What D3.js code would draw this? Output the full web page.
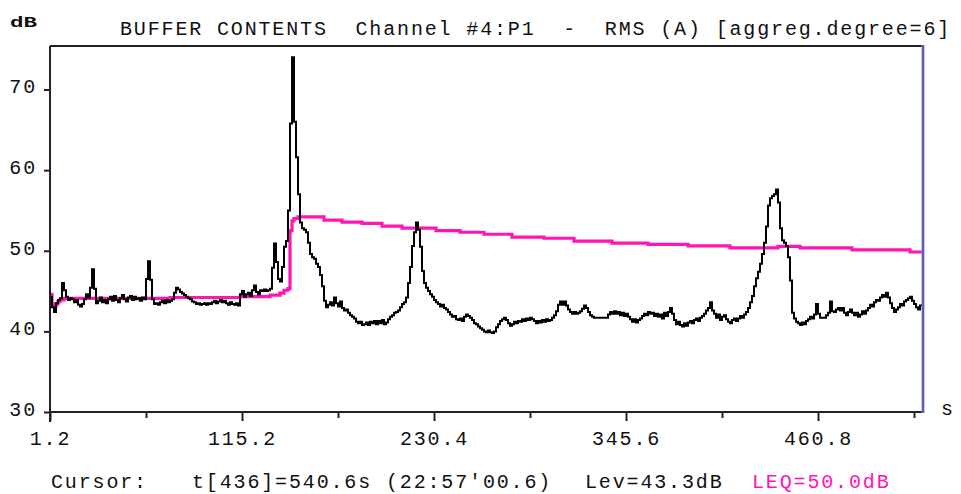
<!DOCTYPE html>
<html><head><meta charset="utf-8">
<script src="https://cdn.jsdelivr.net/npm/d3@7"></script>
<style>
html,body{margin:0;padding:0;background:#fff;}
svg{display:block;}
text{font-family:"Liberation Mono","Courier New",monospace;font-size:20px;letter-spacing:1.85px;fill:#111;white-space:pre;}
</style></head><body>
<svg id="c" width="961" height="494"></svg>
<script>
const titleText = "BUFFER CONTENTS  Channel #4:P1  -  RMS (A) [aggreg.degree=6]";
const yUnit = "dB";
const xUnit = "s";
const xTickIdx = [0, 96, 192, 288, 384];
const xTickLabels = ["1.2", "115.2", "230.4", "345.6", "460.8"];
const xMinorIdx = [48, 144, 240, 336, 432];
const yTicks = [30, 40, 50, 60, 70];
const cursorIdx = 436;
const footCursor = "Cursor:";
const footTime = "t[436]=540.6s (22:57'00.6)";
const footLev = "Lev=43.3dB";
const footLeq = "LEQ=50.0dB";

// RMS level per aggregated sample (dB)
const lev = [
44.3,43.0,42.4,43.5,43.9,44.1,46.0,45.1,44.3,43.9,44.1,
44.0,43.6,43.9,43.3,43.1,43.4,44.0,44.6,44.2,45.4,47.7,45.3,43.5,
43.8,44.2,43.6,43.9,43.5,44.0,44.3,43.8,44.4,43.9,43.6,44.1,44.5,44.0,43.7,44.2,44.4,43.9,44.3,44.0,44.1,43.8,44.2,44.0,
46.5,48.7,46.4,44.0,43.4,43.5,43.3,43.6,43.8,43.5,43.9,43.6,
43.8,44.0,44.8,45.4,45.2,44.9,44.7,44.5,44.3,44.1,
44.0,43.7,43.6,43.4,43.5,43.3,43.4,43.5,43.3,43.5,
43.4,43.6,43.8,43.5,43.7,43.9,43.6,43.8,43.5,43.3,
43.6,43.4,43.3,43.5,43.2,44.6,45.0,44.3,44.6,44.8,
44.4,45.1,45.7,44.9,44.6,45.1,45.0,45.2,45.0,45.1,
45.3,47.9,50.9,48.6,46.5,46.2,48.0,50.5,51.2,55.0,
65.8,74.0,66.0,61.6,57.0,53.5,52.8,52.6,52.3,51.0,
49.6,49.2,49.0,48.4,48.0,47.0,45.6,43.8,43.0,43.3,
43.6,43.2,44.2,43.5,43.1,43.7,42.9,42.6,42.7,42.3,
42.0,41.8,41.6,41.2,41.0,41.2,40.8,40.9,41.1,40.8,
41.2,41.0,41.3,40.9,41.3,41.0,41.4,40.9,41.1,41.5,
41.8,42.0,42.3,42.4,42.6,43.0,43.4,43.6,44.2,46.0,
48.0,50.6,52.3,53.5,52.6,50.5,47.5,46.0,45.4,45.0,
44.6,44.3,43.9,43.6,43.4,43.1,43.3,42.9,42.7,42.4,
42.1,41.8,41.9,41.5,41.4,41.6,41.3,41.8,42.1,41.9,
41.7,41.4,41.0,40.9,40.6,40.4,40.2,40.0,39.9,40.1,
39.9,39.8,40.0,40.5,40.9,41.3,41.5,41.7,41.4,41.0,
40.7,40.9,41.2,41.0,41.3,41.2,41.5,41.3,41.6,41.4,
41.7,41.5,41.3,41.0,41.3,41.1,41.4,41.2,41.5,41.3,
41.4,41.7,42.0,42.5,43.3,43.7,43.3,43.7,43.2,42.7,
42.4,42.2,42.4,42.2,42.3,42.5,42.8,43.2,42.9,42.4,
42.0,41.8,41.7,41.7,41.7,41.7,41.7,41.7,41.7,42.1,
42.4,42.2,42.5,42.2,42.4,42.0,42.3,41.9,42.2,41.8,
41.5,41.2,41.5,41.1,41.4,41.6,41.9,42.2,42.0,42.4,
42.2,42.3,41.9,42.2,41.8,42.1,41.6,42.3,41.9,42.4,
42.9,42.2,41.4,40.9,41.2,40.8,40.6,41.0,40.7,41.1,
41.3,41.0,41.4,41.6,41.3,41.7,41.9,42.2,42.6,42.9,
43.6,42.6,42.2,41.7,42.1,41.4,41.8,42.0,41.5,41.2,
41.0,41.4,41.6,41.3,41.6,41.9,41.7,42.1,42.4,42.9,
43.6,44.4,45.6,46.6,47.4,48.4,49.6,51.0,53.0,55.6,
56.5,56.8,57.0,57.6,56.0,52.8,51.3,51.0,50.6,49.2,
46.3,42.3,41.6,41.2,41.0,40.8,41.1,40.9,41.3,41.5,
41.8,41.6,42.1,43.4,42.2,41.7,41.7,41.7,42.0,42.3,
43.7,42.5,42.4,42.7,42.9,42.6,42.9,42.3,42.0,42.4,
42.7,42.3,42.0,42.3,41.8,42.1,42.5,42.2,42.6,42.9,
43.3,43.1,43.6,43.9,43.8,44.2,44.5,44.3,44.8,44.2,
43.5,42.9,42.4,42.7,43.0,43.4,43.2,43.7,43.9,44.1,
44.3,43.8,43.4,43.0,42.7,43.2,43.3
];

// running LEQ: sample index where the value changes, and the value
const leqIdx = [0,1,2,3,4,5,7,60,95,110,115,117,119,120,121,122,124,137,146,156,166,176,193,205,217,231,247,262,281,299,319,340,364,375,401,430];
const leqVal = [44.6,43.4,43.1,43.4,43.7,43.9,44.1,44.2,44.3,44.5,44.75,45.1,45.3,52.5,53.7,54.0,54.2,53.8,53.55,53.4,53.05,52.8,52.5,52.3,52.05,51.7,51.55,51.2,50.95,50.8,50.6,50.35,50.55,50.35,50.1,49.85];

const svg = d3.select("#c");
const x = d3.scaleLinear().domain([0, cursorIdx + 0.5]).range([50, 923]);
const y = d3.scaleLinear().domain([30, 75.4]).range([412, 46]);
const pink = "#ff14b4";
const FONT = '"Liberation Mono","Courier New",monospace';

// title & units
svg.append("text").attr("x", 120).attr("y", 35).text(titleText);
svg.append("text").attr("x", 10).attr("y", 27)
  .style("font-size", "14px").style("font-weight", "bold").style("letter-spacing", "0px")
  .attr("textLength", 27).attr("lengthAdjust", "spacingAndGlyphs").text(yUnit);
svg.append("text").attr("x", 941).attr("y", 415).text(xUnit);

// series
const levPts = lev.map((v, i) => [i, v]);
levPts.push([cursorIdx + 0.5, lev[lev.length - 1]]);
const leqPts = leqIdx.map((d, k) => [d, leqVal[k]]);
leqPts.push([cursorIdx + 0.5, leqVal[leqVal.length - 1]]);

const line = d3.line().x(d => x(d[0])).y(d => y(d[1])).curve(d3.curveStepAfter);

svg.append("path").datum(leqPts).attr("d", line)
  .attr("fill", "none").attr("stroke", pink).attr("stroke-width", 3.2);
svg.append("path").datum(levPts).attr("d", line)
  .attr("fill", "none").attr("stroke", "#000").attr("stroke-width", 2);

// axes
const ax = svg.append("g").attr("transform", "translate(0,412)")
  .call(d3.axisBottom(x).tickValues(xTickIdx).tickFormat((d, i) => xTickLabels[i]).tickSize(9).tickPadding(8));
ax.select(".domain").remove();
ax.selectAll("line").attr("stroke", "#222").attr("stroke-width", 2);
ax.selectAll("text").attr("y", 33).attr("dy", null)
  .style("font-family", FONT).style("font-size", "20px").attr("fill", "#111");

const axm = svg.append("g").attr("transform", "translate(0,412)")
  .call(d3.axisBottom(x).tickValues(xMinorIdx).tickFormat("").tickSize(6));
axm.select(".domain").remove();
axm.selectAll("line").attr("stroke", "#222").attr("stroke-width", 2);

const ay = svg.append("g").attr("transform", "translate(50,0)")
  .call(d3.axisLeft(y).tickValues(yTicks).tickSize(6).tickPadding(7));
ay.select(".domain").remove();
ay.selectAll("line").attr("stroke", "#222").attr("stroke-width", 2);
ay.selectAll("text").attr("dy", "0.17em")
  .style("font-family", FONT).style("font-size", "20px").attr("fill", "#111");

// frame
const fr = svg.append("g").attr("stroke", "#222").attr("stroke-width", 2).attr("fill", "none");
fr.append("line").attr("x1", x(0)).attr("x2", x(cursorIdx + 0.5)).attr("y1", y(75.4)).attr("y2", y(75.4));
fr.append("line").attr("x1", x(0)).attr("x2", x(0)).attr("y1", y(75.4)).attr("y2", y(30) + 10);
fr.append("line").attr("x1", x(0)).attr("x2", x(cursorIdx + 0.5)).attr("y1", y(30)).attr("y2", y(30));

// cursor
svg.append("line").attr("x1", x(cursorIdx + 0.5)).attr("x2", x(cursorIdx + 0.5))
  .attr("y1", y(75.4) - 1).attr("y2", y(30) + 1)
  .attr("stroke", "#8a8aff").attr("stroke-width", 3);
svg.append("line").attr("x1", x(cursorIdx + 0.5)).attr("x2", x(cursorIdx + 0.5))
  .attr("y1", y(75.4) - 1).attr("y2", y(30) + 1)
  .attr("stroke", "#303070").attr("stroke-width", 1);

// footer
svg.append("text").attr("x", 51).attr("y", 488).text(footCursor);
svg.append("text").attr("x", 192).attr("y", 488).text(footTime);
svg.append("text").attr("x", 585).attr("y", 488).text(footLev);
svg.append("text").attr("x", 752).attr("y", 488).attr("fill", pink).style("fill", pink).text(footLeq);
</script>
</body></html>
